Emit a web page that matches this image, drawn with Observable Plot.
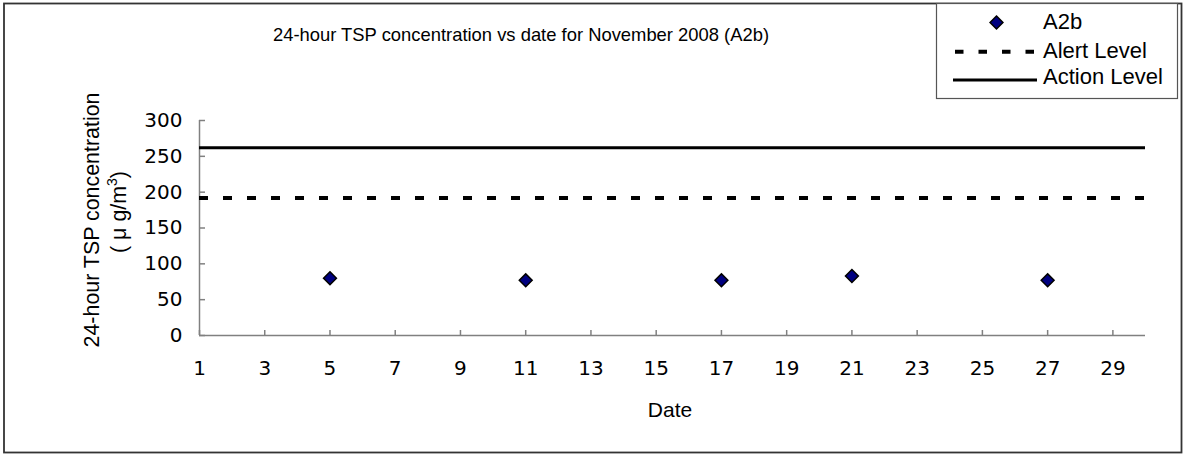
<!DOCTYPE html>
<html><head><meta charset="utf-8">
<script src="https://cdn.jsdelivr.net/npm/d3@7"></script>
<script src="https://cdn.jsdelivr.net/npm/@observablehq/plot@0.6"></script>
<style>body{margin:0;background:#fff}#chart{width:1184px;height:454px}</style>
</head><body><div id="chart"></div>
<script>
const days = [5, 11, 17, 21, 27];
const tsp = [80, 77, 77, 83, 77];
const alertLevel = 192;
const actionLevel = 262;
const xTicks = [1, 3, 5, 7, 9, 11, 13, 15, 17, 19, 21, 23, 25, 27, 29];
const yTicks = [0, 50, 100, 150, 200, 250, 300];
const titleText = "24-hour TSP concentration vs date for November 2008 (A2b)";
const yLabel1 = "24-hour TSP concentration";
const yLabel2 = "( \u03bc g/m";
const xLabel = "Date";
const legendLabels = ["A2b", "Alert Level", "Action Level"];

const data = days.map((d, i) => ({date: d, value: tsp[i]}));
const gray = "#808080";
const tickFont = 20;

const plot = Plot.plot({
  width: 1184, height: 454,
  marginLeft: 199, marginRight: 39, marginTop: 120, marginBottom: 119,
  x: {domain: [1, 30]},
  y: {domain: [0, 300]},
  style: {background: "white", fontFamily: "DejaVu Sans", color: "black"},
  marks: [
    Plot.ruleY([0], {stroke: gray, strokeWidth: 1.5}),
    Plot.ruleX([1], {stroke: gray, strokeWidth: 1.5}),
    Plot.axisX(xTicks, {tickSize: -5, tickFormat: () => "", stroke: gray, strokeWidth: 1.5, label: null}),
    Plot.axisY(yTicks, {tickSize: -6, tickFormat: () => "", stroke: gray, strokeWidth: 1.5, label: null}),
    Plot.axisX(xTicks, {tickSize: 0, tickPadding: 25, fontSize: tickFont, label: null}),
    Plot.axisY(yTicks, {tickSize: 0, tickPadding: 17, fontSize: tickFont, label: null}),
    Plot.ruleY([actionLevel], {stroke: "black", strokeWidth: 3}),
    Plot.ruleY([alertLevel], {stroke: "black", strokeWidth: 4, strokeDasharray: "9,15"}),
    Plot.dot(data, {x: "date", y: "value", symbol: "diamond2", r: 5.8, fill: "#000080", stroke: "black", strokeWidth: 1.5})
  ]
});
document.getElementById("chart").appendChild(plot);

const svg = d3.select(plot);
const sans = "Liberation Sans, Arial, sans-serif";

// outer frame
svg.append("rect").attr("x", 4).attr("y", 3.5).attr("width", 1177.5).attr("height", 449)
  .attr("fill", "none").attr("stroke", "#333").attr("stroke-width", 1.8);

// title
svg.append("text").attr("x", 521).attr("y", 40.5).attr("text-anchor", "middle")
  .attr("font-family", sans).attr("font-size", 18.4).attr("fill", "black").text(titleText);

// y label
const yl = svg.append("g").attr("transform", "translate(98.5,220) rotate(-90)");
yl.append("text").attr("text-anchor", "middle").attr("font-family", sans)
  .attr("font-size", 21.4).attr("fill", "black").text(yLabel1);
const yl2 = svg.append("g").attr("transform", "translate(126,212) rotate(-90)");
const t2 = yl2.append("text").attr("text-anchor", "middle").attr("font-family", sans)
  .attr("font-size", 21.4).attr("fill", "black");
t2.append("tspan").text(yLabel2);
t2.append("tspan").attr("dy", -9).attr("font-size", 14).text("3");
t2.append("tspan").attr("dy", 9).text(")");

// x label
svg.append("text").attr("x", 670).attr("y", 417).attr("text-anchor", "middle")
  .attr("font-family", sans).attr("font-size", 21).attr("fill", "black").text(xLabel);

// legend
const lg = svg.append("g");
lg.append("rect").attr("x", 936.5).attr("y", 3.5).attr("width", 241).attr("height", 95)
  .attr("fill", "white").attr("stroke", "#555").attr("stroke-width", 1.2);
lg.append("path").attr("transform", "translate(996.5,22.5)")
  .attr("d", d3.symbol(d3.symbolDiamond2, Math.PI * 5.8 * 5.8)())
  .attr("fill", "#000080").attr("stroke", "black").attr("stroke-width", 1.5);
lg.append("line").attr("x1", 955).attr("x2", 1036).attr("y1", 51.7).attr("y2", 51.7)
  .attr("stroke", "black").attr("stroke-width", 4).attr("stroke-dasharray", "8.5,15");
lg.append("line").attr("x1", 953).attr("x2", 1037).attr("y1", 80).attr("y2", 80)
  .attr("stroke", "black").attr("stroke-width", 3);
const ly = [29.3, 58.3, 84];
legendLabels.forEach((l, i) => {
  lg.append("text").attr("x", 1043).attr("y", ly[i]).attr("text-anchor", "start")
    .attr("font-family", sans).attr("font-size", 22).attr("fill", "black").text(l);
});
</script>
</body></html>
